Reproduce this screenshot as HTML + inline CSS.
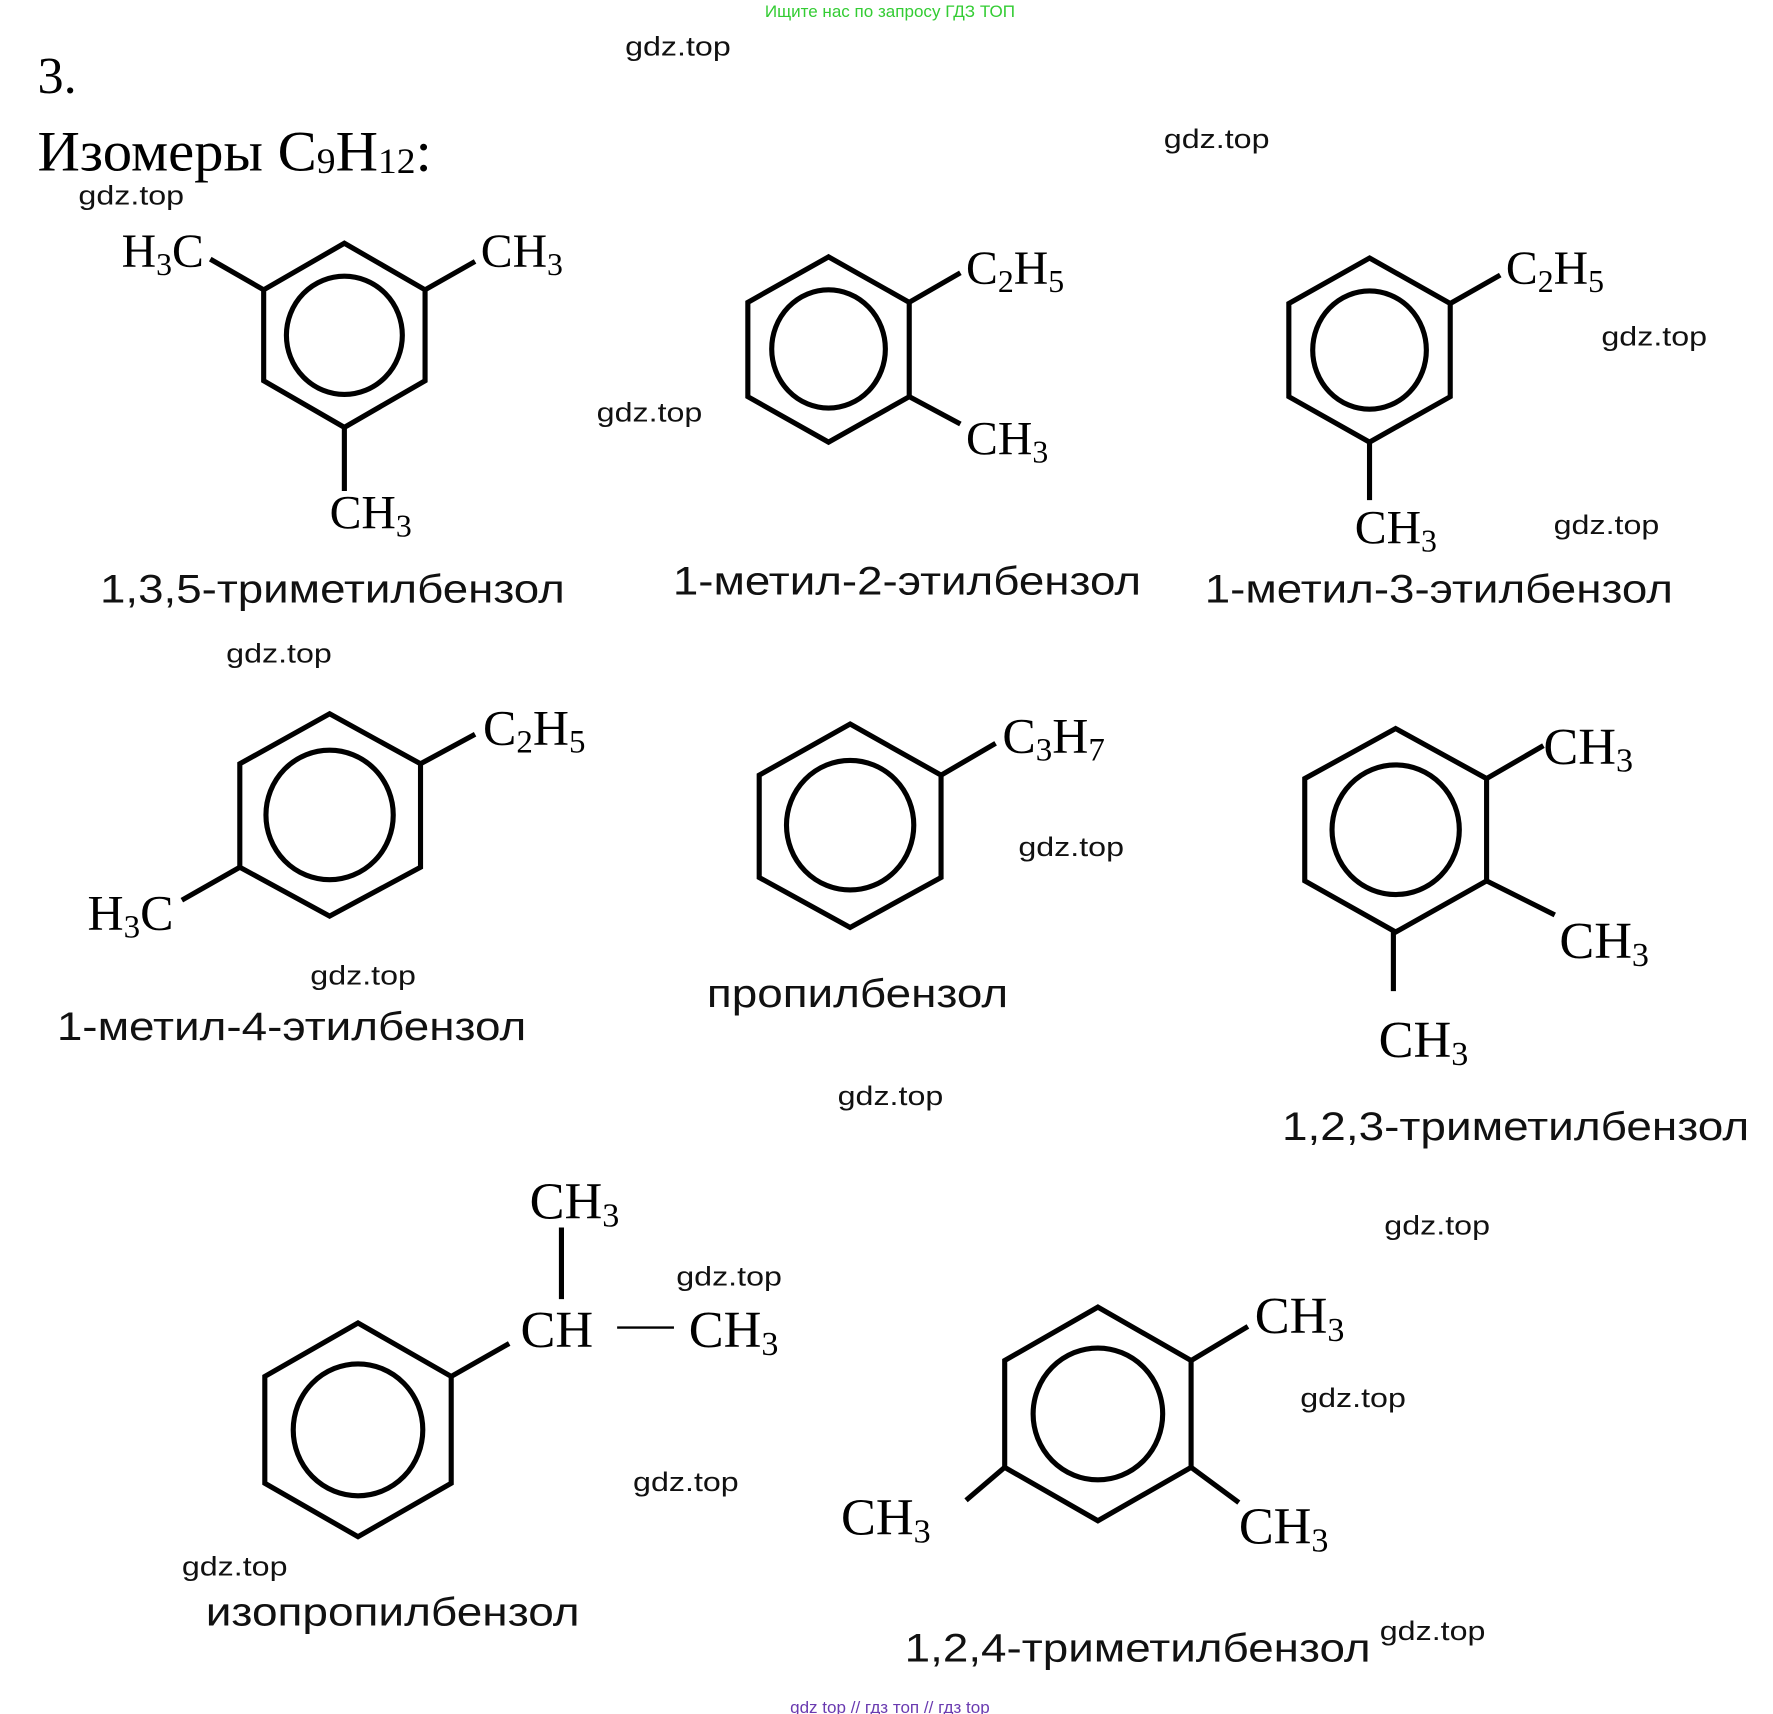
<!DOCTYPE html>
<html><head><meta charset="utf-8"><style>
html,body{margin:0;padding:0;background:#fff;}
svg{display:block;}
.s{font-family:"Liberation Serif",serif;fill:#000;}
.n{font-family:"Liberation Sans",sans-serif;font-size:35px;fill:#111;}
.w{font-family:"Liberation Sans",sans-serif;font-size:24px;fill:#111;}
.l{stroke:#000;stroke-width:4.5;fill:none;}
</style></head><body>
<svg width="1773" height="1714" viewBox="0 0 1560 1508" preserveAspectRatio="none" xmlns="http://www.w3.org/2000/svg">
<text x="783" y="15" text-anchor="middle" font-family="Liberation Sans,sans-serif" font-size="15" fill="#33cc33">Ищите нас по запросу ГДЗ ТОП</text>
<text x="783" y="1507" text-anchor="middle" font-family="Liberation Sans,sans-serif" font-size="15" fill="#6a3ab0">gdz top  //  гдз топ  //  гдз top</text>
<text class="s" x="33" y="82" font-size="46">3.</text>
<text class="s" x="33" y="150" font-size="50" textLength="347" lengthAdjust="spacingAndGlyphs">Изомеры C<tspan font-size="32" dy="2">9</tspan><tspan dy="-2">H</tspan><tspan font-size="32" dy="2">12</tspan><tspan dy="-2">:</tspan></text>

<g class="w">
<text x="550" y="49" textLength="93" lengthAdjust="spacingAndGlyphs">gdz.top</text>
<text x="1024" y="130" textLength="93" lengthAdjust="spacingAndGlyphs">gdz.top</text>
<text x="69" y="180" textLength="93" lengthAdjust="spacingAndGlyphs">gdz.top</text>
<text x="525" y="371" textLength="93" lengthAdjust="spacingAndGlyphs">gdz.top</text>
<text x="1409" y="304" textLength="93" lengthAdjust="spacingAndGlyphs">gdz.top</text>
<text x="1367" y="470" textLength="93" lengthAdjust="spacingAndGlyphs">gdz.top</text>
<text x="199" y="583" textLength="93" lengthAdjust="spacingAndGlyphs">gdz.top</text>
<text x="273" y="866" textLength="93" lengthAdjust="spacingAndGlyphs">gdz.top</text>
<text x="896" y="753" textLength="93" lengthAdjust="spacingAndGlyphs">gdz.top</text>
<text x="737" y="972" textLength="93" lengthAdjust="spacingAndGlyphs">gdz.top</text>
<text x="1218" y="1086" textLength="93" lengthAdjust="spacingAndGlyphs">gdz.top</text>
<text x="595" y="1131" textLength="93" lengthAdjust="spacingAndGlyphs">gdz.top</text>
<text x="1144" y="1238" textLength="93" lengthAdjust="spacingAndGlyphs">gdz.top</text>
<text x="557" y="1312" textLength="93" lengthAdjust="spacingAndGlyphs">gdz.top</text>
<text x="160" y="1386" textLength="93" lengthAdjust="spacingAndGlyphs">gdz.top</text>
<text x="1214" y="1443" textLength="93" lengthAdjust="spacingAndGlyphs">gdz.top</text>
</g>

<!-- mol 1 -->
<polygon class="l" points="303,214 374,255 374,335 303,376 232,335 232,255"/>
<ellipse class="l" cx="303" cy="295" rx="51" ry="52"/>
<line class="l" x1="232" y1="255" x2="185" y2="228"/>
<line class="l" x1="374" y1="255" x2="418" y2="230"/>
<line class="l" x1="303" y1="376" x2="303" y2="432"/>
<text class="s" x="107" y="235" font-size="42">H<tspan font-size="28" dy="7">3</tspan><tspan dy="-7">C</tspan></text>
<text class="s" x="423" y="235" font-size="42">CH<tspan font-size="28" dy="7">3</tspan></text>
<text class="s" x="290" y="465" font-size="42">CH<tspan font-size="28" dy="7">3</tspan></text>
<text class="n" x="88" y="530" textLength="409" lengthAdjust="spacingAndGlyphs">1,3,5-триметилбензол</text>

<!-- mol 2 -->
<polygon class="l" points="729,226 800,266 800,349 729,389 658,349 658,266"/>
<ellipse class="l" cx="729" cy="307" rx="50" ry="52"/>
<line class="l" x1="800" y1="266" x2="845" y2="240"/>
<line class="l" x1="800" y1="349" x2="845" y2="373"/>
<text class="s" x="850" y="250" font-size="42">C<tspan font-size="28" dy="7">2</tspan><tspan dy="-7">H</tspan><tspan font-size="28" dy="7">5</tspan></text>
<text class="s" x="850" y="400" font-size="42">CH<tspan font-size="28" dy="7">3</tspan></text>
<text class="n" x="592" y="523" textLength="412" lengthAdjust="spacingAndGlyphs">1-метил-2-этилбензол</text>

<!-- mol 3 -->
<polygon class="l" points="1205,227 1276,267 1276,349 1205,389 1134,349 1134,267"/>
<ellipse class="l" cx="1205" cy="308" rx="50" ry="52"/>
<line class="l" x1="1276" y1="267" x2="1320" y2="242"/>
<line class="l" x1="1205" y1="389" x2="1205" y2="440"/>
<text class="s" x="1325" y="250" font-size="42">C<tspan font-size="28" dy="7">2</tspan><tspan dy="-7">H</tspan><tspan font-size="28" dy="7">5</tspan></text>
<text class="s" x="1192" y="478" font-size="42">CH<tspan font-size="28" dy="7">3</tspan></text>
<text class="n" x="1060" y="530" textLength="412" lengthAdjust="spacingAndGlyphs">1-метил-3-этилбензол</text>

<!-- mol 4 -->
<polygon class="l" points="290,628 370,672 370,763 290,806 211,763 211,672"/>
<ellipse class="l" cx="290" cy="717" rx="56" ry="57"/>
<line class="l" x1="370" y1="672" x2="418" y2="646"/>
<line class="l" x1="211" y1="763" x2="160" y2="792"/>
<text class="s" x="425" y="655" font-size="44">C<tspan font-size="29" dy="7">2</tspan><tspan dy="-7">H</tspan><tspan font-size="29" dy="7">5</tspan></text>
<text class="s" x="77" y="818" font-size="44">H<tspan font-size="29" dy="7">3</tspan><tspan dy="-7">C</tspan></text>
<text class="n" x="50" y="915" textLength="413" lengthAdjust="spacingAndGlyphs">1-метил-4-этилбензол</text>

<!-- mol 5 -->
<polygon class="l" points="748,637 828,682 828,772 748,816 668,772 668,682"/>
<ellipse class="l" cx="748" cy="726" rx="56" ry="57"/>
<line class="l" x1="828" y1="682" x2="876" y2="654"/>
<text class="s" x="882" y="662" font-size="44">C<tspan font-size="29" dy="7">3</tspan><tspan dy="-7">H</tspan><tspan font-size="29" dy="7">7</tspan></text>
<text class="n" x="622" y="886" textLength="265" lengthAdjust="spacingAndGlyphs">пропилбензол</text>

<!-- mol 6 -->
<polygon class="l" points="1228,641 1308,685 1308,775 1228,820 1148,775 1148,685"/>
<ellipse class="l" cx="1228" cy="730" rx="56" ry="57"/>
<line class="l" x1="1308" y1="685" x2="1358" y2="656"/>
<line class="l" x1="1308" y1="775" x2="1368" y2="805"/>
<line class="l" x1="1226" y1="820" x2="1226" y2="872"/>
<text class="s" x="1358" y="672" font-size="46">CH<tspan font-size="30" dy="7">3</tspan></text>
<text class="s" x="1372" y="843" font-size="46">CH<tspan font-size="30" dy="7">3</tspan></text>
<text class="s" x="1213" y="930" font-size="46">CH<tspan font-size="30" dy="7">3</tspan></text>
<text class="n" x="1128" y="1003" textLength="411" lengthAdjust="spacingAndGlyphs">1,2,3-триметилбензол</text>

<!-- mol 7 -->
<polygon class="l" points="315,1164 397,1211 397,1305 315,1352 233,1305 233,1211"/>
<ellipse class="l" cx="315" cy="1258" rx="57" ry="58"/>
<line class="l" x1="397" y1="1211" x2="448" y2="1182"/>
<line class="l" x1="494" y1="1080" x2="494" y2="1143"/>
<line x1="543" y1="1168" x2="593" y2="1168" stroke="#000" stroke-width="2"/>
<text class="s" x="466" y="1072" font-size="46">CH<tspan font-size="30" dy="7">3</tspan></text>
<text class="s" x="458" y="1185" font-size="46">CH</text>
<text class="s" x="606" y="1185" font-size="46">CH<tspan font-size="30" dy="7">3</tspan></text>
<text class="n" x="181" y="1430" textLength="329" lengthAdjust="spacingAndGlyphs">изопропилбензол</text>

<!-- mol 8 -->
<polygon class="l" points="966,1150 1048,1197 1048,1291 966,1338 884,1291 884,1197"/>
<ellipse class="l" cx="966" cy="1244" rx="57" ry="58"/>
<line class="l" x1="1048" y1="1197" x2="1098" y2="1167"/>
<line class="l" x1="1048" y1="1291" x2="1090" y2="1322"/>
<line class="l" x1="884" y1="1291" x2="850" y2="1320"/>
<text class="s" x="1104" y="1173" font-size="46">CH<tspan font-size="30" dy="7">3</tspan></text>
<text class="s" x="1090" y="1358" font-size="46">CH<tspan font-size="30" dy="7">3</tspan></text>
<text class="s" x="740" y="1350" font-size="46">CH<tspan font-size="30" dy="7">3</tspan></text>
<text class="n" x="796" y="1462" textLength="410" lengthAdjust="spacingAndGlyphs">1,2,4-триметилбензол</text>
</svg>
</body></html>
